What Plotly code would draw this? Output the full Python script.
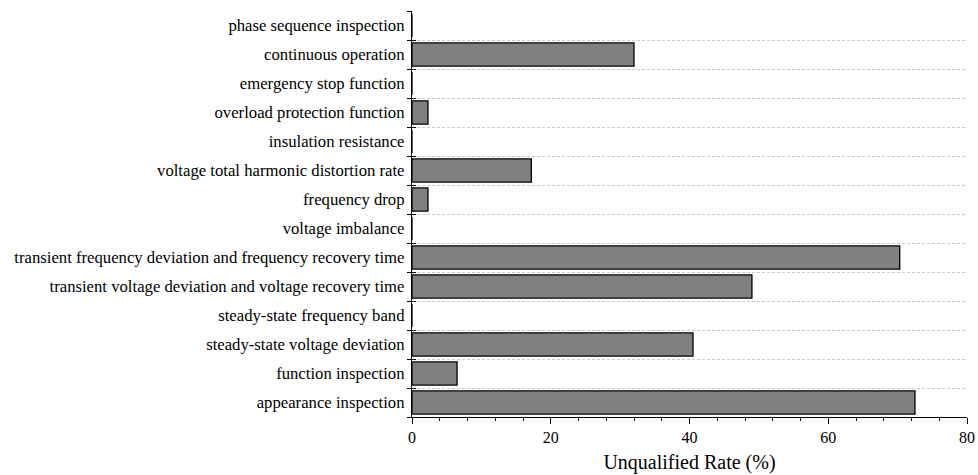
import plotly.graph_objects as go

# Test items, listed bottom to top
items = [
    "appearance inspection",
    "function inspection",
    "steady-state voltage deviation",
    "steady-state frequency band",
    "transient voltage deviation and voltage recovery time",
    "transient frequency deviation and frequency recovery time",
    "voltage imbalance",
    "frequency drop",
    "voltage total harmonic distortion rate",
    "insulation resistance",
    "overload protection function",
    "emergency stop function",
    "continuous operation",
    "phase sequence inspection",
]
# Unqualified rate per item (%)
rates = [72.5, 6.5, 40.5, 0, 49.0, 70.3, 0, 2.3, 17.2, 0, 2.3, 0, 32.0, 0]

x_ticks = [0, 20, 40, 60, 80]

font_family = "Liberation Serif, Times New Roman, serif"

fig = go.Figure()
fig.add_trace(go.Bar(
    x=rates,
    y=items,
    orientation="h",
    marker=dict(color="#808080", line=dict(color="#000000", width=1.3)),
    hoverinfo="x+y",
))
# Helper trace on an overlaid axis to draw the inward half of the category ticks
fig.add_trace(go.Scatter(
    x=rates,
    y=items,
    yaxis="y2",
    mode="markers",
    marker=dict(opacity=0),
    hoverinfo="skip",
    showlegend=False,
))

fig.update_layout(
    width=978,
    height=475,
    margin=dict(l=412, r=11, t=11, b=58),
    paper_bgcolor="white",
    plot_bgcolor="white",
    showlegend=False,
    bargap=0.2,
    font=dict(family=font_family, size=16.7, color="#000000"),
    xaxis=dict(
        range=[0, 80],
        tickvals=x_ticks,
        ticks="outside",
        ticklen=6,
        tickwidth=1,
        tickcolor="#000000",
        minor=dict(dtick=4, ticks="outside", ticklen=3, tickcolor="#000000", showgrid=False),
        showline=True,
        linecolor="#000000",
        linewidth=1.3,
        showgrid=False,
        zeroline=False,
        automargin=False,
        tickfont=dict(size=16),
        title=dict(text="Unqualified Rate (%)", font=dict(size=20), standoff=9),
    ),
    yaxis=dict(
        type="category",
        categoryorder="array",
        categoryarray=items,
        range=[-0.5, len(items) - 0.5],
        tickson="boundaries",
        ticks="outside",
        ticklen=4,
        tickwidth=1,
        tickcolor="#000000",
        ticklabelstandoff=3,
        showline=True,
        linecolor="#000000",
        linewidth=1.3,
        showgrid=True,
        gridcolor="#c8c8c8",
        griddash="3px,2px",
        gridwidth=1,
        zeroline=False,
        automargin=False,
        tickfont=dict(size=16.7),
    ),
    yaxis2=dict(
        type="category",
        categoryorder="array",
        categoryarray=items,
        range=[-0.5, len(items) - 0.5],
        overlaying="y",
        side="left",
        tickson="boundaries",
        ticks="inside",
        ticklen=4,
        tickwidth=1,
        tickcolor="#000000",
        showticklabels=False,
        showgrid=False,
        showline=False,
        zeroline=False,
        automargin=False,
    ),
)

fig.write_html("out.html")
